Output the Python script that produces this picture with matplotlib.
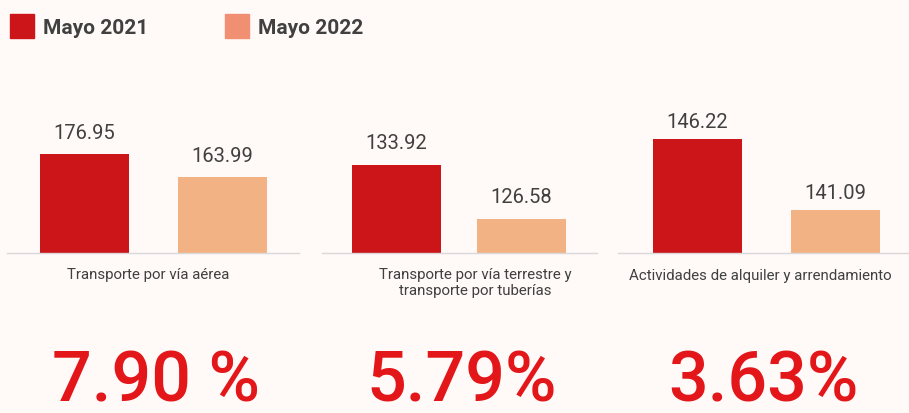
import matplotlib
matplotlib.use("Agg")
import matplotlib.pyplot as plt

# ---- data ----
series = ["Mayo 2021", "Mayo 2022"]
categories = ["Transporte por vía aérea",
              "Transporte por vía terrestre y\ntransporte por tuberías",
              "Actividades de alquiler y arrendamiento"]
values_2021 = [176.95, 133.92, 146.22]
values_2022 = [163.99, 126.58, 141.09]
growth = ["7.90 %", "5.79%", "3.63%"]

# ---- style ----
W, H = 909, 414
BG = "#FFF9F7"
C21 = "#CB1519"
C22_BAR = "#F3B283"
C22_LEG = "#F08F72"
TXT = "#404040"
RED = "#E3161A"
plt.rcParams['font.family'] = ['Roboto', 'DejaVu Sans']

fig = plt.figure(figsize=(W / 100, H / 100), dpi=100)
fig.patch.set_facecolor(BG)

def fx(px):
    return px / W

def fy(py):
    return 1 - py / H

# panel layout (pixels): axes left, right, bar width fraction, xlim, ylim
panels = [
    dict(l=7, r=299, bw=0.645, xlim=(-0.5616, 1.554), ylim=(121.17, 121.17 + 154 / 1.7747), pad=12),
    dict(l=322, r=597, bw=0.712, xlim=(-0.596, 1.604), ylim=(121.96, 121.96 + 154 / 7.357), pad=13),
    dict(l=618, r=908, bw=0.645, xlim=(-0.576, 1.525), ylim=(137.98, 137.98 + 154 / 13.84), pad=8),
]
cat_pos = [(148, 275), (475, 283), (760, 276)]
pct_pos = [(156.5, 382), (462, 382), (763.5, 382)]

top_px, base_px = 100, 254
for i, p in enumerate(panels):
    ax = fig.add_axes([fx(p['l']), fy(base_px), fx(p['r'] - p['l']), (base_px - top_px) / H])
    ax.set_facecolor("none")
    vals = [values_2021[i], values_2022[i]]
    ax.bar([0, 1], vals, width=p['bw'], color=[C21, C22_BAR], bottom=0)
    ax.set_xlim(*p['xlim'])
    ax.set_ylim(*p['ylim'])
    for s in ["top", "right", "left"]:
        ax.spines[s].set_visible(False)
    ax.spines["bottom"].set_color("#D9D9D9")
    ax.spines["bottom"].set_linewidth(1.0)
    ax.set_xticks([])
    ax.set_yticks([])
    for x, v in zip([0, 1], vals):
        ax.annotate(f"{v:.2f}", (x, v), xytext=(0, p['pad'] * 0.72), textcoords="offset points",
                    ha="center", va="bottom", fontsize=14.5, color=TXT)
    cx, cy = cat_pos[i]
    fig.text(fx(cx), fy(cy), categories[i], ha="center", va="center",
             fontsize=10.8, color=TXT, linespacing=1.25)
    px, py = pct_pos[i]
    fig.text(fx(px), fy(py), growth[i], ha="center", va="center",
             fontsize=50.5, color=RED, fontweight="medium")

# legend
for (sx, tx, col, lab) in [(10, 43, C21, series[0]), (225, 258, C22_LEG, series[1])]:
    fig.patches.append(plt.Rectangle((fx(sx), fy(39)), fx(24), 24 / H,
                                     transform=fig.transFigure, color=col))
    fig.text(fx(tx), fy(28), lab, ha="left", va="center", fontsize=15,
             fontweight="bold", color=TXT)

fig.savefig("out.png", dpi=100, facecolor=BG)
